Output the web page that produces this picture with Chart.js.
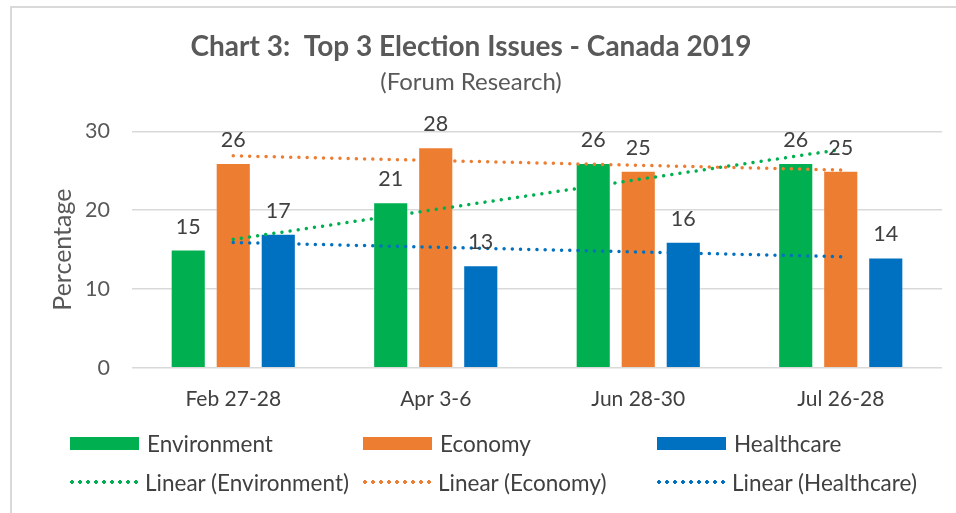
<!DOCTYPE html>
<html>
<head>
<meta charset="utf-8">
<script src="https://cdn.jsdelivr.net/npm/chart.js@4"></script>
<style>
  html, body { margin: 0; padding: 0; background: #fff; }
  body { width: 956px; height: 513px; position: relative; overflow: hidden; font-family: Lato, "Open Sans", sans-serif; }
  .frame { position: absolute; left: 10px; top: 6px; right: -10px; bottom: -10px; border-top: 2px solid #d9d9d9; border-left: 2px solid #d9d9d9; }
  #wrap { position: absolute; left: 0; top: 0; width: 956px; height: 513px; }
  .legend { position: absolute; left: 0; top: 0; color: #404040; font-size: 22.5px; }
  .item { position: absolute; display: flex; align-items: center; height: 26px; white-space: nowrap; }
  .box { width: 69px; height: 13px; margin-right: 8px; }
  .dots { width: 71px; height: 4px; margin-right: 6px; background-repeat: repeat-x; background-size: 8px 4px; }
</style>
</head>
<body>
<div class="frame"></div>
<div id="wrap"><canvas id="chart3"></canvas></div>
<div class="legend" id="legend"></div>
<script>
// chart data
const categories = ['Feb 27-28', 'Apr 3-6', 'Jun 28-30', 'Jul 26-28'];
const environment = [15, 21, 26, 26];
const economy = [26, 28, 25, 25];
const healthcare = [17, 13, 16, 14];
const yTicks = [0, 10, 20, 30];

const colors = { Environment: '#00B050', Economy: '#ED7D31', Healthcare: '#0070C0' };
const FONT = 'Lato, "Open Sans", sans-serif';

// least squares line, like Excel's linear trendline
function linearTrend(values) {
  const n = values.length;
  const mx = (n - 1) / 2;
  const my = values.reduce((a, b) => a + b, 0) / n;
  let sxy = 0, sxx = 0;
  values.forEach((v, i) => { sxy += (i - mx) * (v - my); sxx += (i - mx) * (i - mx); });
  const slope = sxy / sxx;
  return values.map((v, i) => my + slope * (i - mx));
}

function barSet(label, data) {
  return { type: 'bar', label, data, backgroundColor: colors[label], borderColor: 'rgba(255,255,255,0.35)', borderWidth: 1, order: 2, categoryPercentage: 0.667, barPercentage: 0.78 };
}
function trendSet(label, data) {
  return { type: 'line', label: 'Linear (' + label + ')', data: linearTrend(data), borderColor: colors[label], borderWidth: 3.5, borderDash: [0.01, 8.2], borderCapStyle: 'round', pointRadius: 0, fill: false, order: 1 };
}

/* value labels over each bar */
const barValues = {
  id: 'barValues',
  afterDatasetsDraw(chart) {
    const ctx = chart.ctx;
    ctx.save();
    ctx.font = '21.5px ' + FONT;
    ctx.fillStyle = '#404040';
    ctx.textAlign = 'center';
    ctx.textBaseline = 'alphabetic';
    chart.data.datasets.forEach((ds, i) => {
      if (ds.type !== 'bar') return;
      chart.getDatasetMeta(i).data.forEach((bar, j) => {
        ctx.fillText(ds.data[j], bar.x, bar.y - 16);
      });
    });
    ctx.restore();
  }
};

const chart = new Chart(document.getElementById('chart3'), {
  data: {
    labels: categories,
    datasets: [
      barSet('Environment', environment),
      barSet('Economy', economy),
      barSet('Healthcare', healthcare),
      trendSet('Environment', environment),
      trendSet('Economy', economy),
      trendSet('Healthcare', healthcare)
    ]
  },
  options: {
    responsive: true,
    maintainAspectRatio: false,
    animation: false,
    layout: { padding: { left: 0, right: 14, top: 0, bottom: 90 } },
    plugins: {
      legend: { display: false },
      tooltip: { enabled: false },
      title: {
        display: true,
        text: 'Chart 3:  Top 3 Election Issues - Canada 2019',
        color: '#595959',
        font: { family: FONT, size: 28, weight: 'bold' },
        padding: { top: 30, bottom: 2 }
      },
      subtitle: {
        display: true,
        text: '(Forum Research)',
        color: '#595959',
        font: { family: FONT, size: 24 },
        padding: { top: 2, bottom: 35 }
      }
    },
    scales: {
      x: {
        grid: { display: false },
        border: { display: false },
        ticks: { color: '#404040', font: { family: FONT, size: 21 }, padding: 11 }
      },
      y: {
        min: 0, max: 30,
        afterBuildTicks(scale) { scale.ticks = yTicks.map(v => ({ value: v })); },
        afterFit(scale) { scale.width = 132; },
        grid: { color: '#d9d9d9', lineWidth: 1.5, drawTicks: false },
        border: { display: false },
        ticks: { color: '#595959', font: { family: FONT, size: 21.5 }, padding: 22 },
        title: {
          display: true, text: 'Percentage', color: '#595959',
          font: { family: FONT, size: 25 },
          padding: { top: 48, bottom: 0 }
        }
      }
    }
  },
  plugins: [barValues]
});

// legend: bars on the first row, trendlines on the second
const legend = document.getElementById('legend');
const columns = [64, 357, 651];
['Environment', 'Economy', 'Healthcare'].forEach((name, i) => {
  const c = colors[name];
  legend.innerHTML +=
    `<div class="item" style="left:${columns[i] + 6}px;top:430px"><span class="box" style="background:${c}"></span>${name}</div>` +
    `<div class="item" style="left:${columns[i] + 4}px;top:469px"><span class="dots" style="background-image:radial-gradient(circle, ${c} 1.6px, transparent 2.1px)"></span>Linear (${name})</div>`;
});
</script>
</body>
</html>
